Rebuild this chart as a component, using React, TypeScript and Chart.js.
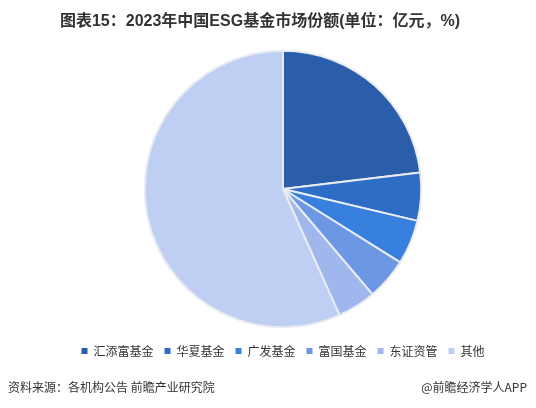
import { useEffect, useRef } from 'react';
import { Chart, registerables } from 'chart.js';

Chart.register(...registerables);

// 2023年中国ESG基金市场份额（%）
const labels = ['汇添富基金', '华夏基金', '广发基金', '富国基金', '东证资管', '其他'];
const shares = [23.1, 5.6, 5.2, 4.9, 4.5, 56.7];
const colors = ['#2a5eab', '#2d6dc5', '#3880dd', '#6b97e5', '#9fb7ec', '#bfcff3'];

const titleText = '图表15：2023年中国ESG基金市场份额(单位：亿元，%)';
const sourceText = '资料来源：各机构公告 前瞻产业研究院';
const brandText = '@前瞻经济学人APP';

export default function App() {
  const canvasRef = useRef<HTMLCanvasElement>(null);
  const chartRef = useRef<Chart | null>(null);

  useEffect(() => {
    if (!canvasRef.current) return;
    if (chartRef.current) chartRef.current.destroy();

    const ctx = canvasRef.current.getContext('2d');
    if (!ctx) return;

    const defaultLabels = (Chart.overrides as any).pie.plugins.legend.labels.generateLabels;

    chartRef.current = new Chart(ctx, {
      type: 'pie',
      data: {
        labels,
        datasets: [
          {
            data: shares,
            backgroundColor: colors,
            borderColor: '#e8ebf2',
            borderWidth: 2,
          },
        ],
      },
      options: {
        animation: false,
        responsive: false,
        maintainAspectRatio: false,
        radius: '96%',
        layout: { padding: { left: 30, top: 44, bottom: 41 } },
        plugins: {
          title: { display: false },
          legend: {
            position: 'bottom',
            labels: {
              color: '#333',
              font: { family: '"Noto Sans CJK SC", sans-serif', size: 12 },
              boxWidth: 6,
              boxHeight: 6,
              padding: 11,
              // 图例小方块用实色，不带扇区的描边
              generateLabels: (chart: Chart) =>
                defaultLabels(chart).map((item: any) => ({
                  ...item,
                  strokeStyle: item.fillStyle,
                  lineWidth: 0,
                })),
            },
          },
          tooltip: { enabled: false },
        },
      },
    });

    return () => {
      if (chartRef.current) {
        chartRef.current.destroy();
        chartRef.current = null;
      }
    };
  }, []);

  return (
    <div
      style={{
        position: 'absolute',
        left: 0,
        top: 0,
        width: 536,
        height: 408,
        background: '#fff',
        fontFamily: '"Noto Sans CJK SC", sans-serif',
      }}
    >
      <div
        style={{
          position: 'absolute',
          left: 0,
          top: 10,
          width: 520,
          textAlign: 'center',
          fontFamily: '"Liberation Sans", "Noto Sans CJK SC", sans-serif',
          fontWeight: 'bold',
          fontSize: 16,
          lineHeight: '22px',
          color: '#333',
        }}
      >
        {titleText}
      </div>
      <canvas ref={canvasRef} width={536} height={408} style={{ width: 536, height: 408 }} />
      <div style={{ position: 'absolute', left: 8, top: 378, fontSize: 12, color: '#333' }}>{sourceText}</div>
      <div style={{ position: 'absolute', right: 9, top: 378, fontSize: 12, color: '#333' }}>{brandText}</div>
    </div>
  );
}
